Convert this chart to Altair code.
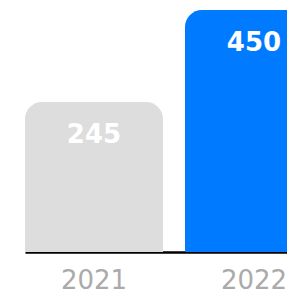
import altair as alt
import pandas as pd

years = ["2021", "2022"]
values = [245, 450]
bar_colors = ["#dddddd", "#007bff"]
axis_floor = -89  # value at the baseline of the y scale

df = pd.DataFrame({"year": years, "value": values, "color": bar_colors})

x_enc = alt.X(
    "year:N",
    sort=years,
    scale=alt.Scale(range=[0, 298], paddingInner=0.1375, paddingOuter=0),
    axis=alt.Axis(
        title=None,
        labelAngle=0,
        ticks=False,
        domainColor="#000000",
        domainWidth=2.5,
        labelFont="DejaVu Sans",
        labelFontSize=26,
        labelColor="#aaaaaa",
        labelPadding=15,
        grid=False,
    ),
)
y_scale = alt.Scale(domain=[axis_floor, 450], nice=False, zero=False)

bars = alt.Chart(df).mark_bar(cornerRadiusTopLeft=17, cornerRadiusTopRight=17).encode(
    x=x_enc,
    y=alt.Y("value:Q", scale=y_scale, axis=None),
    y2=alt.datum(axis_floor),
    color=alt.Color("color:N", scale=None, legend=None),
)

labels = alt.Chart(df).mark_text(
    color="white", font="DejaVu Sans", fontWeight="bold", fontSize=26,
    baseline="alphabetic", dy=41, align="center",
).encode(
    x=alt.X("year:N", sort=years),
    y=alt.Y("value:Q", scale=y_scale),
    text="value:Q",
)

chart = (bars + labels).properties(
    width=262, height=242,
    autosize=alt.AutoSizeParams(type="none"),
    padding={"left": 17, "top": 2, "right": 0, "bottom": 40},
    background="white",
).configure_view(stroke=None)

chart.save("out.html", embed_options={"renderer": "svg", "actions": False})
